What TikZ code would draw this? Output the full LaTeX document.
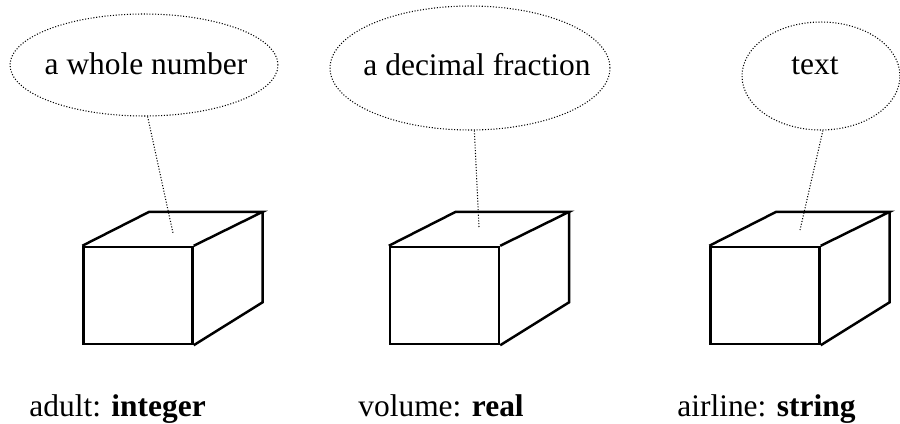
\documentclass[tikz,border=0pt]{standalone}
\usepackage{fontspec}
\setmainfont{Liberation Serif}
\usepackage{tikz}
\usetikzlibrary{shapes.geometric, calc}

\begin{document}
\begin{tikzpicture}[x=0.02cm, y=-0.02cm,
  bubble/.style={draw, ellipse, densely dotted, line width=0.6pt,
                 inner sep=0pt},
  note/.style={font=\fontsize{17.9pt}{21pt}\selectfont, anchor=base,
               inner sep=0pt},
  cube/.style={draw, line width=1.4pt, minimum width=2.18cm,
               minimum height=1.94cm, inner sep=0pt},
  edge/.style={line width=1.4pt, line join=miter},
  tie/.style={densely dotted, line width=0.6pt},
  lbl/.style={font=\fontsize{17.9pt}{21pt}\selectfont, anchor=base west,
              inner sep=0pt}
]
\useasboundingbox (0,0) rectangle (900,423);

% Bubbles
\node[bubble, minimum width=5.36cm, minimum height=2.04cm] (e1) at (144,65) {};
\node[note] (t1) at (146,74) {a whole number};
\node[bubble, minimum width=5.6cm, minimum height=2.48cm] (e2) at (470,68) {};
\node[note] (t2) at (477,75) {a decimal fraction};
\node[bubble, minimum width=3.16cm, minimum height=2.16cm] (e3) at (821,76) {};
\node[note] (t3) at (815,74) {text};

% Boxes (front faces)
\node[cube] (f1) at (138,295.5) {};
\node[cube] (f2) at (444.5,295.5) {};
\node[cube] (f3) at (765,295.5) {};

% Top and side faces
\foreach \f in {f1,f2,f3}{
  \draw[edge] (\f.north west) -- ++(67,-34) -- ($(\f.north east)+(69,-34)$)
    -- (\f.north east);
  \draw[edge] ($(\f.north east)+(69,-34)$) -- ($(\f.south east)+(69,-43)$)
    -- (\f.south east);
}

% Ends of the ties
\coordinate (p1) at (173,233);
\coordinate (p2) at (479,227);
\coordinate (p3) at (800,230);

\draw[tie] (e1.-86) -- (p1);
\draw[tie] (e2.-86) -- (p2);
\draw[tie] (e3.-88) -- (p3);

% Labels
\node[lbl] (l1) at (29,416) {adult: \textbf{integer}};
\node[lbl] (l2) at (358,416) {volume: \textbf{real}};
\node[lbl] (l3) at (677,416) {airline: \textbf{string}};

\end{tikzpicture}
\end{document}
